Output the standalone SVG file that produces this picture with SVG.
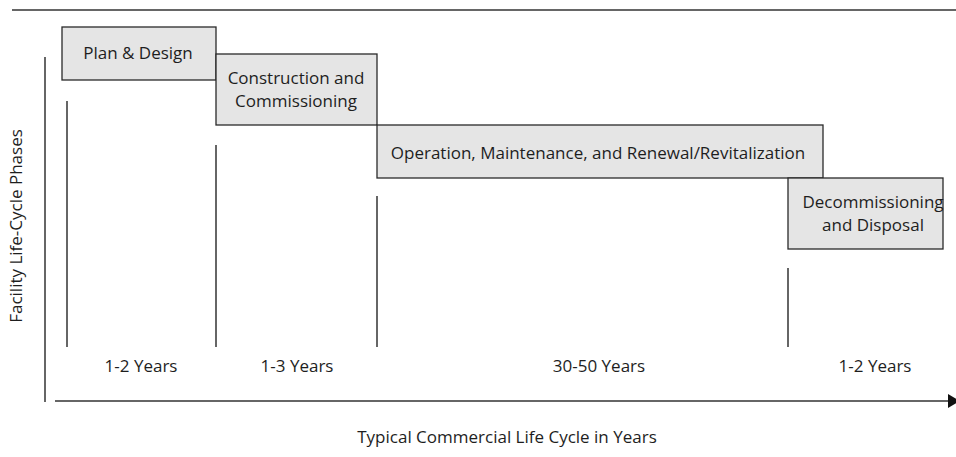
<svg xmlns="http://www.w3.org/2000/svg" width="956" height="457" viewBox="0 0 956 457">
<style>
.box{fill:#e5e5e5;stroke:#2a2a2a;stroke-width:1.3}
.ln{stroke:#333;stroke-width:1.5;fill:none}
.t{font-family:"Open Sans",Lato,"Liberation Sans",sans-serif;font-size:17px;fill:#1e1e1e;text-anchor:middle}
</style>
<defs>
<marker id="arr" viewBox="0 0 12 14" refX="0" refY="7" markerWidth="12" markerHeight="14" markerUnits="userSpaceOnUse" orient="auto">
<path d="M0,0 L12,7 L0,14 Z" fill="#111"/>
</marker>
</defs>
<rect width="956" height="457" fill="#fff"/>
<line class="ln" x1="12" y1="10" x2="956" y2="10"/>
<g id="connectors">
<line class="ln" x1="67" y1="101" x2="67" y2="347"/>
<line class="ln" x1="216" y1="145" x2="216" y2="347"/>
<line class="ln" x1="377" y1="196" x2="377" y2="347"/>
<line class="ln" x1="788" y1="268" x2="788" y2="347"/>
<line class="ln" x1="45" y1="57" x2="45" y2="402"/>
<line class="ln" x1="55" y1="401" x2="948" y2="401" marker-end="url(#arr)"/>
</g>
<g id="plan">
<rect class="box" x="62" y="27" width="154" height="53"/>
<text class="t" x="138" y="59">Plan &amp; Design</text>
</g>
<g id="construction">
<rect class="box" x="216" y="54" width="161" height="71"/>
<text class="t" x="296" y="84">Construction and</text>
<text class="t" x="296" y="107">Commissioning</text>
</g>
<g id="operation">
<rect class="box" x="377" y="125" width="446" height="53"/>
<text class="t" x="598" y="159">Operation, Maintenance, and Renewal/Revitalization</text>
</g>
<g id="decommissioning">
<rect class="box" x="788" y="178" width="155" height="71"/>
<text class="t" x="873" y="208">Decommissioning</text>
<text class="t" x="873" y="231">and Disposal</text>
</g>
<g id="labels">
<text class="t" x="141" y="372">1-2 Years</text>
<text class="t" x="297" y="372">1-3 Years</text>
<text class="t" x="599" y="372">30-50 Years</text>
<text class="t" x="875" y="372">1-2 Years</text>
<text class="t" x="507" y="443">Typical Commercial Life Cycle in Years</text>
<text class="t" transform="translate(22,226) rotate(-90)">Facility Life-Cycle Phases</text>
</g>
</svg>
